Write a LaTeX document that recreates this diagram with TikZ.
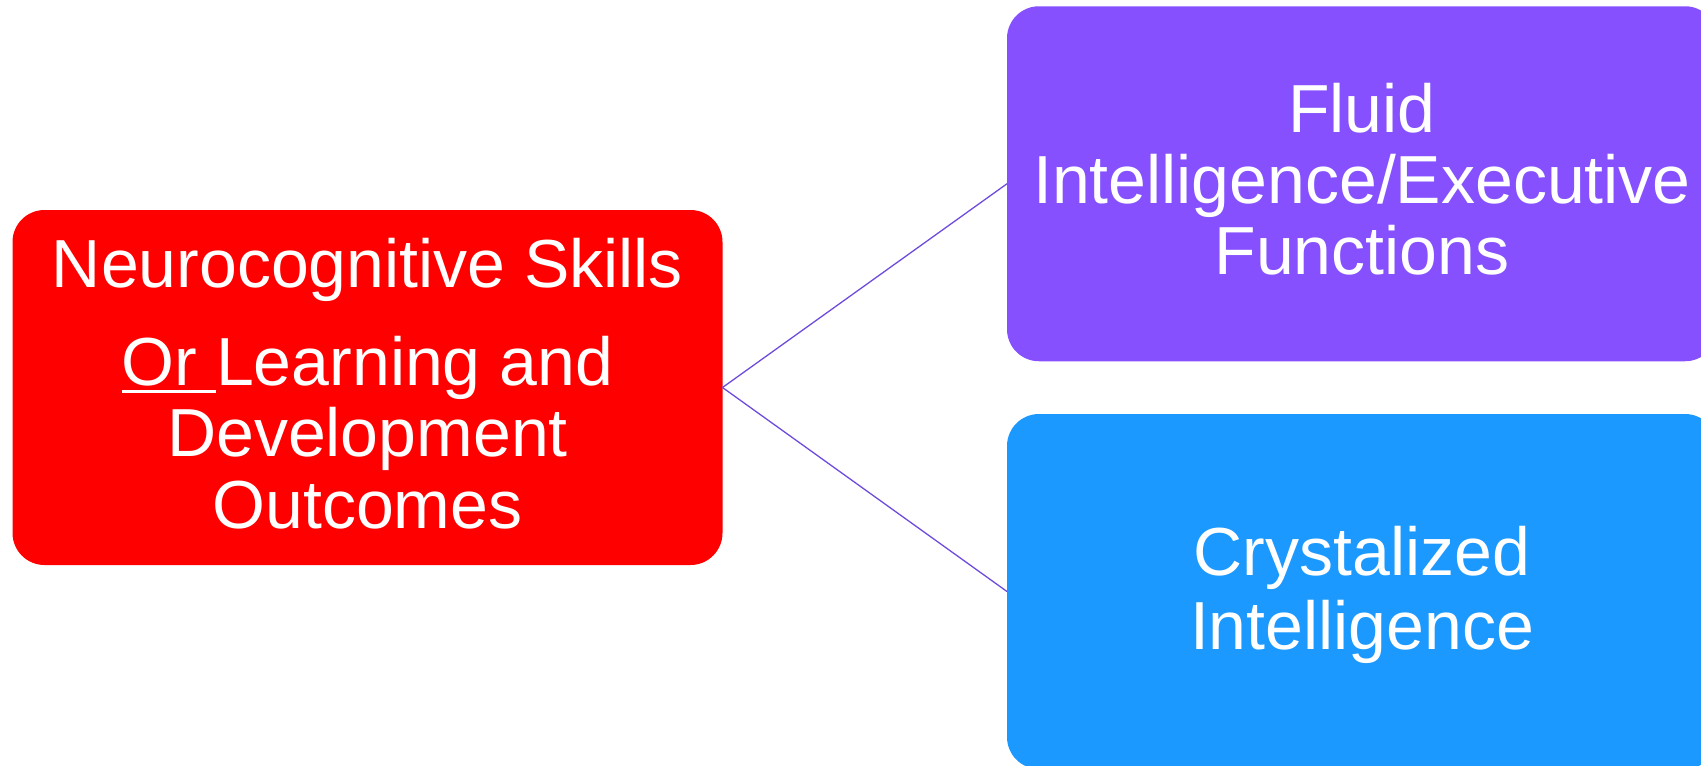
\documentclass[tikz,border=0pt]{standalone}
\usepackage{fontspec}
\setmainfont{Liberation Sans}
\definecolor{ncred}{RGB}{255,0,0}
\definecolor{fluidpurple}{RGB}{134,80,255}
\definecolor{crystblue}{RGB}{27,153,255}
\definecolor{linkcol}{RGB}{110,75,220}
\newcommand\thickul[1]{\setbox0\hbox{#1}\rlap{\rule[-7.5pt]{\wd0}{3pt}}\box0}
\tikzset{
  card/.style={rounded corners=32pt, minimum width=710pt, minimum height=355pt, inner sep=0pt, outer sep=0pt},
  cardtext/.style={text=white, align=center, inner sep=0pt, font=\fontsize{68}{#1}\selectfont},
  link/.style={draw=linkcol, line width=1.3pt}
}
\begin{document}
\begin{tikzpicture}[x=1pt,y=-1pt]
\useasboundingbox (0,0) rectangle (1701,766);
\clip (0,0) rectangle (1701,766);
% boxes
\node[card, fill=ncred] (nc) at (367.5,387.5) {};
\node[card, fill=fluidpurple] (fluid) at (1362,183.75) {};
\node[card, fill=crystblue] (cryst) at (1362,591.5) {};
% texts
\node[cardtext=71.5] (nctext) at (367.5,393.3) {\strut Neurocognitive Skills\\[26.5pt] \thickul{Or\ }Learning and\\ Development\\ Outcomes\strut};
\node[cardtext=71] (fluidtext) at (1362,189.5) {\strut Fluid\\ Intelligence/Executive\\ Functions\strut};
\node[cardtext=73.6] (crysttext) at (1362,597.8) {\strut Crystalized\\ Intelligence\strut};
% connectors
\draw[link] (nc.east) -- (fluid.west);
\draw[link] (nc.east) -- (cryst.west);
\end{tikzpicture}
\end{document}
